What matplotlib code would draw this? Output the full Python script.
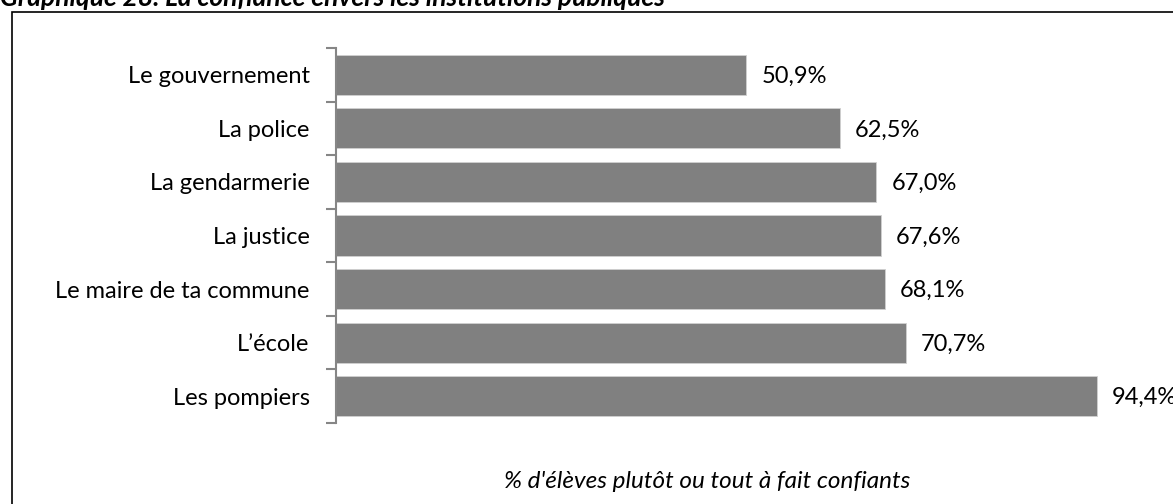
import matplotlib.pyplot as plt
import numpy as np

# data (top to bottom as shown)
categories = ['Le gouvernement', 'La police', 'La gendarmerie', 'La justice',
              'Le maire de ta commune', 'L\u2019école', 'Les pompiers']
values = [50.9, 62.5, 67.0, 67.6, 68.1, 70.7, 94.4]
value_labels = ['50,9%', '62,5%', '67,0%', '67,6%', '68,1%', '70,7%', '94,4%']

plt.rcParams['font.family'] = ['Lato', 'DejaVu Sans']

W, H = 1173, 504
fig = plt.figure(figsize=(W / 100, H / 100), dpi=100)

# outer frame of the chart (partly cut by the page)
fig.add_artist(plt.Rectangle((12 / W, -0.1), 1.2, (H - 12) / H + 0.1,
                             transform=fig.transFigure, fill=False,
                             edgecolor='black', linewidth=1.2))

fig.text(0 / W, 1 - 6 / H, 'Graphique 28. La confiance envers les institutions publiques',
         fontsize=19, fontweight='bold', style='italic', ha='left', va='baseline')

# axes: x from 336px to 336 + 100*8.06px, y from 48px to 423px
left, right = 336, 336 + 806
top, bottom = 48, 423
ax = fig.add_axes([left / W, 1 - bottom / H, (right - left) / W, (bottom - top) / H])

y = np.arange(len(categories))
ax.barh(y, values, height=0.75, color='#808080', edgecolor='#d0d0d0', linewidth=0.6)

for yi, v, lab in zip(y, values, value_labels):
    ax.text(v + 1.9, yi + 0.03, lab, va='center', ha='left', fontsize=17, clip_on=False)

ax.set_xlim(0, 100)
ax.set_ylim(len(categories) - 0.5, -0.5)
ax.set_yticks(y)
ax.set_yticklabels(categories, fontsize=17)
ax.set_yticks(np.arange(len(categories) + 1) - 0.5, minor=True)
ax.tick_params(axis='y', which='major', length=0, pad=19)
ax.tick_params(axis='y', which='minor', length=7, width=1.5, color='#868686')
ax.set_xticks([])

for s in ['top', 'right', 'bottom']:
    ax.spines[s].set_visible(False)
ax.spines['left'].set_color('#868686')
ax.spines['left'].set_linewidth(1.5)

fig.text(707 / W, 1 - 481 / H, "% d'élèves plutôt ou tout à fait confiants",
         fontsize=17.5, style='italic', ha='center', va='center')

fig.savefig('out.png', dpi=100)
